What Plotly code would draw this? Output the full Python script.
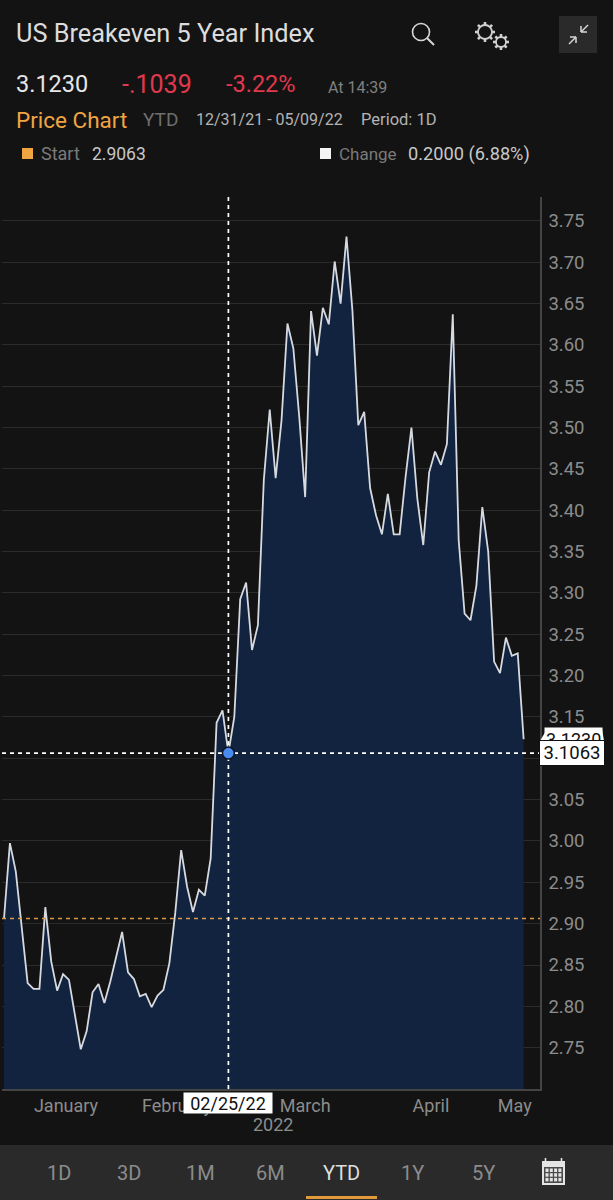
import plotly.graph_objects as go
import math

values = [2.9063,2.9975,2.963,2.897,2.828,2.821,2.821,2.920,2.854,2.819,
          2.839,2.832,2.788,2.748,2.770,2.817,2.827,2.804,2.830,2.860,
          2.890,2.841,2.833,2.812,2.815,2.799,2.813,2.820,2.852,2.913,
          2.989,2.945,2.914,2.941,2.934,2.979,3.143,3.158,3.1063,3.150,
          3.2925,3.3126,3.231,3.261,3.437,3.522,3.439,3.509,3.626,3.596,
          3.513,3.416,3.641,3.587,3.645,3.625,3.701,3.650,3.731,3.642,
          3.503,3.519,3.427,3.394,3.371,3.420,3.371,3.371,3.440,3.500,
          3.414,3.358,3.446,3.471,3.455,3.480,3.637,3.364,3.275,3.267,
          3.309,3.404,3.350,3.217,3.203,3.246,3.224,3.227,3.123]
index = list(range(len(values)))
y_ticks = [2.75,2.80,2.85,2.90,2.95,3.00,3.05,3.10,3.15,3.20,3.25,3.30,3.35,3.40,3.45,3.50,3.55,3.60,3.65,3.70,3.75]
month_labels = ["January","February","March","April","May"]
month_pos = [10.5,29.3,51,72.3,86.5]
start_value = 2.9063
cross_index = 38
cross_value = 3.1063
last_value = 3.1230
periods = ["1D","3D","1M","6M","YTD","1Y","5Y"]
period_px = [59,129,200,270,341,412,483]

W, H = 613, 1200
FONT = "Roboto"
BG = "#131313"
def px(x): return x / W
def py(y): return 1 - y / H

shapes, anns = [], []
def text(x, y, s, size, color, anchor="left", font=FONT):
    anns.append(dict(x=px(x), y=py(y), xref="paper", yref="paper", text=s, showarrow=False,
                     xanchor=anchor, yanchor="middle", font=dict(family=font, size=size, color=color),
                     borderpad=0, borderwidth=0))
def rect(x0, y0, x1, y1, fill, layer="above", line=None, r=0):
    shapes.append(dict(type="rect", xref="paper", yref="paper", x0=px(x0), x1=px(x1), y0=py(y0), y1=py(y1),
                       fillcolor=fill, line=dict(width=0 if line is None else 1, color=line or fill), layer=layer))
def seg(x0, y0, x1, y1, color, w=1.5):
    shapes.append(dict(type="line", xref="paper", yref="paper", x0=px(x0), x1=px(x1), y0=py(y0), y1=py(y1),
                       line=dict(color=color, width=w), layer="above"))
def circ(cx, cy, r, color, w=1.5, fill="rgba(0,0,0,0)"):
    shapes.append(dict(type="circle", xref="paper", yref="paper", x0=px(cx-r), x1=px(cx+r), y0=py(cy-r), y1=py(cy+r),
                       line=dict(color=color, width=w), fillcolor=fill, layer="above"))
def gear(cx, cy, r, teeth, color):
    circ(cx, cy, r, color, 1.8)
    for k in range(teeth):
        a = 2*math.pi*k/teeth
        seg(cx+r*math.cos(a), cy+r*math.sin(a), cx+(r+3)*math.cos(a), cy+(r+3)*math.sin(a), color, 2.6)

# header
text(16, 34, "US Breakeven 5 Year Index", 25.3, "#dcdcdc")
text(16, 84, "3.1230", 23.5, "#e6e6e6")
text(122, 84, "-.1039", 25, "#e0384c")
text(226, 84, "-3.22%", 23.5, "#e0384c")
text(328, 87, "At 14:39", 16, "#808080")
text(16, 120, "Price Chart", 22.5, "#f0a543")
text(143, 120, "YTD", 19, "#6e6e6e")
text(196, 120, "12/31/21 - 05/09/22", 16, "#b4b4b4")
text(361, 120, "Period: 1D", 16.5, "#b4b4b4")
rect(22, 148, 33, 159, "#f0a543")
text(41, 153.5, "Start", 18, "#7a7a7a")
text(92, 153.5, "2.9063", 17.5, "#c8c8c8")
rect(320, 148, 331, 159, "#f4f4f4")
text(339, 153.5, "Change", 17, "#7a7a7a")
text(408, 153.5, "0.2000 (6.88%)", 18.2, "#c8c8c8")

# icons
circ(421, 32, 8.5, "#d8d8d8", 1.6)
seg(427, 38, 434, 45, "#d8d8d8", 2)
gear(485, 32, 7, 8, "#d0d0d0")
gear(501, 42, 5, 8, "#d0d0d0")
rect(559, 16, 597, 53, "#2a2a2a")
arrow = "#d8d8d8"
seg(581, 32, 588, 25, arrow, 1.5); seg(581, 32, 581, 26, arrow, 1.5); seg(581, 32, 587, 32, arrow, 1.5)
seg(576, 37, 569, 44, arrow, 1.5); seg(576, 37, 576, 43, arrow, 1.5); seg(576, 37, 570, 37, arrow, 1.5)

# bottom bar
rect(0, 1145, 613, 1200, "#2a2a2a", layer="below")
for lab, x in zip(periods, period_px):
    text(x, 1173, lab, 20, "#dedede" if lab == "YTD" else "#8c8c8c", "center")
rect(306, 1196, 377, 1199, "#e09a3c")
# calendar
cal = "#e4e4e4"
rect(542, 1161, 565, 1185, cal)
rect(544, 1167, 563, 1183, "#4a4a4a")
seg(545.5, 1158, 545.5, 1162, cal, 1.6); seg(561.5, 1158, 561.5, 1162, cal, 1.6)
for r_ in range(3):
    for c_ in range(4):
        rect(545.5+c_*4.3, 1168.5+r_*4.7, 548.5+c_*4.3, 1172+r_*4.7, "#e4e4e4")

XMIN, XMAX = -0.34, 90.77
YMIN, YMAX = 2.70, 3.779
dash = "4px,4px"

# value labels
shapes.append(dict(type="path", xref="paper", yref="paper",
                   path=f"M {px(540)} {py(741)} L {px(547)} {py(729)} L {px(602)} {py(729)} L {px(604)} {py(741)} Z",
                   fillcolor="#ffffff", line=dict(width=0), layer="above"))
anns.append(dict(x=px(573), y=last_value, xref="paper", yref="y", text="3.1230", showarrow=False,
                 font=dict(family=FONT, size=18, color="#111111"), xanchor="center", yanchor="middle",
                 bgcolor="#ffffff", borderpad=1))
anns.append(dict(x=px(572), y=cross_value, xref="paper", yref="y", text="3.1063", showarrow=False,
                 font=dict(family=FONT, size=18.5, color="#111111"), xanchor="center", yanchor="middle",
                 bgcolor="#ffffff", bordercolor="#111111", borderwidth=1, borderpad=1, width=62, height=22))
anns.append(dict(x=cross_index, y=py(1103), xref="x", yref="paper", text="02/25/22", showarrow=False,
                 font=dict(family=FONT, size=18, color="#111111"), xanchor="center", yanchor="middle",
                 bgcolor="#ffffff", borderpad=0, width=88, height=20))
text(273, 1124, "2022", 18, "#8c8c8c", "center")

fig = go.Figure()
fig.add_trace(go.Scatter(x=index, y=values, mode="lines", fill="tozeroy", fillcolor="#12233f",
                         line=dict(color="#d6dae0", width=1.8), hoverinfo="skip", showlegend=False))
fig.add_trace(go.Scatter(x=[XMIN, XMAX], y=[start_value, start_value], mode="lines",
                         line=dict(color="#d99a4a", width=1.4, dash=dash), hoverinfo="skip", showlegend=False))
fig.add_trace(go.Scatter(x=[XMIN, XMAX], y=[cross_value, cross_value], mode="lines",
                         line=dict(color="#ffffff", width=1.7, dash=dash), hoverinfo="skip", showlegend=False))
fig.add_trace(go.Scatter(x=[cross_index, cross_index], y=[YMIN, YMAX], mode="lines",
                         line=dict(color="#ffffff", width=1.7, dash=dash), hoverinfo="skip", showlegend=False))
fig.add_trace(go.Scatter(x=[cross_index], y=[cross_value], mode="markers",
                         marker=dict(size=12, color="#4a8bf0", line=dict(color="#0d1626", width=1.5)),
                         hoverinfo="skip", showlegend=False))
fig.update_layout(
    width=W, height=H, margin=dict(l=0, r=0, t=0, b=0), autosize=False,
    paper_bgcolor=BG, plot_bgcolor=BG, shapes=shapes, annotations=anns, showlegend=False,
    xaxis=dict(domain=[px(2), px(540)], range=[XMIN, XMAX], tickmode="array", tickvals=month_pos,
               ticktext=month_labels, showgrid=False, zeroline=False, ticks="", ticklen=0,
               tickfont=dict(family=FONT, size=18, color="#8c8c8c"),
               showline=True, linecolor="#444444", linewidth=1.5),
    yaxis=dict(domain=[py(1089), py(197)], range=[YMIN, YMAX], side="right", tickmode="array",
               tickvals=y_ticks, ticktext=[f"{t:.2f}" for t in y_ticks], showgrid=True,
               gridcolor="#2b2b2b", gridwidth=1.3, zeroline=False, ticks="outside", ticklen=3,
               tickcolor="rgba(0,0,0,0)", tickfont=dict(family=FONT, size=18.5, color="#8c8c8c"),
               showline=True, linecolor="#444444", linewidth=1.5),
)
fig.write_html("out.html", config=dict(displayModeBar=False),
               post_script="document.body.style.margin='0';document.body.style.background='#131313';")
